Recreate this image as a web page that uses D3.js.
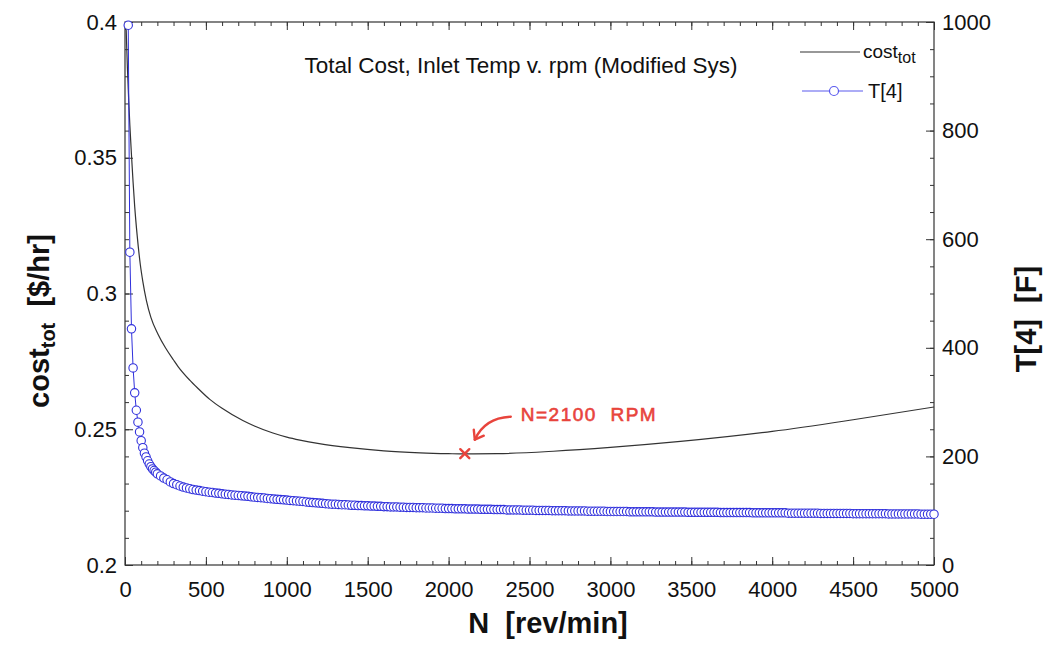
<!DOCTYPE html>
<html>
<head>
<meta charset="utf-8">
<script src="https://cdn.jsdelivr.net/npm/d3@7"></script>
<style>
  body { margin: 0; background: #fff; }
  text { font-family: "Liberation Sans", Arial, sans-serif; white-space: pre; }
</style>
</head>
<body>
<div id="chart"></div>
<script>
// total cost vs rpm (black line)
const costN = [5, 10, 15, 23, 30, 40, 50, 60, 75, 95, 110, 132, 160, 204, 250, 300, 328, 400, 450, 524, 600, 728, 800, 914, 1000, 1081, 1200, 1390, 1600, 1824, 2000, 2100, 2300, 2647, 3000, 3433, 4000, 4500, 5000];
const costVals = [0.4015, 0.392, 0.383, 0.371, 0.362, 0.351, 0.341, 0.332, 0.3215, 0.3105, 0.3045, 0.2975, 0.2912, 0.2850, 0.2800, 0.2755, 0.2731, 0.2681, 0.2651, 0.2610, 0.2577, 0.2532, 0.2512, 0.2486, 0.2471, 0.2460, 0.2447, 0.2432, 0.2420, 0.2413, 0.2410, 0.2409, 0.2410, 0.2419, 0.2433, 0.2455, 0.2492, 0.2535, 0.2582];

// T[4] inlet temp vs rpm (blue markers)
const t4N = [20, 30, 40, 50, 60, 70, 80, 90, 100, 110, 120, 130, 140, 150, 160, 170, 180, 190, 200,
  220, 240, 260, 280, 300, 320, 340, 360, 380, 400,
  420, 440, 460, 480, 500, 520, 540, 560, 580, 600,
  620, 640, 660, 680, 700, 720, 740, 760, 780, 800,
  820, 840, 860, 880, 900, 920, 940, 960, 980, 1000,
  1020, 1040, 1060, 1080, 1100, 1120, 1140, 1160, 1180, 1200,
  1220, 1240, 1260, 1280, 1300, 1320, 1340, 1360, 1380, 1400,
  1420, 1440, 1460, 1480, 1500, 1520, 1540, 1560, 1580, 1600,
  1620, 1640, 1660, 1680, 1700, 1720, 1740, 1760, 1780, 1800,
  1820, 1840, 1860, 1880, 1900, 1920, 1940, 1960, 1980, 2000,
  2020, 2040, 2060, 2080, 2100, 2120, 2140, 2160, 2180, 2200,
  2220, 2240, 2260, 2280, 2300, 2320, 2340, 2360, 2380, 2400,
  2420, 2440, 2460, 2480, 2500, 2520, 2540, 2560, 2580, 2600,
  2620, 2640, 2660, 2680, 2700, 2720, 2740, 2760, 2780, 2800,
  2820, 2840, 2860, 2880, 2900, 2920, 2940, 2960, 2980, 3000,
  3020, 3040, 3060, 3080, 3100, 3120, 3140, 3160, 3180, 3200,
  3220, 3240, 3260, 3280, 3300, 3320, 3340, 3360, 3380, 3400,
  3420, 3440, 3460, 3480, 3500, 3520, 3540, 3560, 3580, 3600,
  3620, 3640, 3660, 3680, 3700, 3720, 3740, 3760, 3780, 3800,
  3820, 3840, 3860, 3880, 3900, 3920, 3940, 3960, 3980, 4000,
  4020, 4040, 4060, 4080, 4100, 4120, 4140, 4160, 4180, 4200,
  4220, 4240, 4260, 4280, 4300, 4320, 4340, 4360, 4380, 4400,
  4420, 4440, 4460, 4480, 4500, 4520, 4540, 4560, 4580, 4600,
  4620, 4640, 4660, 4680, 4700, 4720, 4740, 4760, 4780, 4800,
  4820, 4840, 4860, 4880, 4900, 4920, 4940, 4960, 4980, 5000];
const t4Vals = [994, 576, 435, 363, 317, 285, 263, 245, 229, 216, 206, 199, 192, 186, 181, 177, 174, 171, 168,
  164, 160, 157, 153, 150, 148, 145.5, 143.5, 142, 140.5,
  139, 138, 137, 136, 135, 134, 133.5, 132.5, 132, 131,
  130.5, 130, 129, 128.5, 128, 127.5, 127, 126.5, 125.5, 125,
  124.5, 124, 123.5, 122.5, 122, 121.5, 121, 120.5, 120, 119.5,
  119, 118.5, 118, 117.5, 117, 116, 115.5, 115, 114.5, 114,
  113.5, 113, 112.5, 112, 112, 111.5, 111, 111, 110.5, 110,
  110, 109.5, 109.5, 109, 109, 108.5, 108.5, 108, 108, 107.5,
  107.5, 107, 107, 107, 106.5, 106.5, 106, 106, 106, 105.5,
  105.5, 105.5, 105, 105, 105, 104.5, 104.5, 104.5, 104, 104,
  104, 103.5, 103.5, 103.5, 103.5, 103, 103, 103, 103, 102.5,
  102.5, 102.5, 102.5, 102, 102, 102, 102, 101.5, 101.5, 101.5,
  101.5, 101.5, 101, 101, 101, 101, 100.5, 100.5, 100.5, 100.5,
  100.5, 100, 100, 100, 100, 100, 99.5, 99.5, 99.5, 99.5,
  99.5, 99.5, 99, 99, 99, 99, 99, 99, 98.5, 98.5,
  98.5, 98.5, 98.5, 98.5, 98.5, 98, 98, 98, 98, 98,
  98, 98, 98, 97.5, 97.5, 97.5, 97.5, 97.5, 97.5, 97.5,
  97.5, 97.5, 97.5, 97, 97, 97, 97, 97, 97, 97,
  97, 97, 97, 96.5, 96.5, 96.5, 96.5, 96.5, 96.5, 96.5,
  96.5, 96.5, 96.5, 96, 96, 96, 96, 96, 96, 96,
  96, 96, 96, 96, 95.5, 95.5, 95.5, 95.5, 95.5, 95.5,
  95.5, 95.5, 95.5, 95.5, 95, 95, 95, 95, 95, 95,
  95, 95, 95, 95, 94.5, 94.5, 94.5, 94.5, 94.5, 94.5,
  94.5, 94.5, 94.5, 94.5, 94.5, 94, 94, 94, 94, 94,
  94, 94, 94, 94, 94, 93.5, 93.5, 93.5, 93.5, 93.5];

const xTicks = [0, 500, 1000, 1500, 2000, 2500, 3000, 3500, 4000, 4500, 5000];
const costTicks = [0.2, 0.25, 0.3, 0.35, 0.4];
const tTicks = [0, 200, 400, 600, 800, 1000];
const markN = 2100, markCost = 0.2410;

const width = 1051, height = 652;
const margin = {top: 22, right: 117, bottom: 87, left: 125};
const innerW = width - margin.left - margin.right;
const innerH = height - margin.top - margin.bottom;

const svg = d3.select("#chart").append("svg")
  .attr("width", width).attr("height", height);

const x = d3.scaleLinear().domain([0, 5000]).range([margin.left, margin.left + innerW]);
const yCost = d3.scaleLinear().domain([0.2, 0.4]).range([margin.top + innerH, margin.top]);
const yT = d3.scaleLinear().domain([0, 1000]).range([margin.top + innerH, margin.top]);

const axisColor = "#333";
const major = 8, minor = 4;

function styleAxis(g) {
  g.select(".domain").remove();
  g.selectAll("line").attr("stroke", axisColor);
  g.selectAll("text").attr("font-size", 22).attr("fill", "#111");
}

// minor ticks
svg.append("g").attr("transform", `translate(0,${margin.top + innerH})`)
  .call(d3.axisBottom(x).tickValues(d3.range(0, 5001, 100)).tickSize(-minor).tickFormat("")).call(styleAxis);
svg.append("g").attr("transform", `translate(0,${margin.top})`)
  .call(d3.axisTop(x).tickValues(d3.range(0, 5001, 100)).tickSize(-minor).tickFormat("")).call(styleAxis);
svg.append("g").attr("transform", `translate(${margin.left},0)`)
  .call(d3.axisLeft(yCost).tickValues(d3.range(20, 41).map(d => d / 100)).tickSize(-minor).tickFormat("")).call(styleAxis);
svg.append("g").attr("transform", `translate(${margin.left + innerW},0)`)
  .call(d3.axisRight(yT).tickValues(d3.range(0, 1001, 50)).tickSize(-minor).tickFormat("")).call(styleAxis);

// major ticks + labels
svg.append("g").attr("transform", `translate(0,${margin.top + innerH})`)
  .call(d3.axisBottom(x).tickValues(xTicks).tickSize(-major).tickPadding(16).tickFormat(d3.format("d"))).call(styleAxis);
svg.append("g").attr("transform", `translate(0,${margin.top})`)
  .call(d3.axisTop(x).tickValues(xTicks).tickSize(-major).tickFormat("")).call(styleAxis);
svg.append("g").attr("transform", `translate(${margin.left},0)`)
  .call(d3.axisLeft(yCost).tickValues(costTicks).tickSize(-major).tickPadding(8).tickFormat(d => String(+d.toFixed(2)))).call(styleAxis);
svg.append("g").attr("transform", `translate(${margin.left + innerW},0)`)
  .call(d3.axisRight(yT).tickValues(tTicks).tickSize(-major).tickPadding(8).tickFormat(d3.format("d"))).call(styleAxis);

// frame
svg.append("rect")
  .attr("x", margin.left).attr("y", margin.top)
  .attr("width", innerW).attr("height", innerH)
  .attr("fill", "none").attr("stroke", axisColor).attr("stroke-width", 1.2);

svg.append("clipPath").attr("id", "plotclip").append("rect")
  .attr("x", margin.left).attr("y", margin.top).attr("width", innerW).attr("height", innerH);

const plot = svg.append("g").attr("clip-path", "url(#plotclip)");

// cost line
const costLine = d3.line()
  .x((d, i) => x(costN[i]))
  .y(d => yCost(d))
  .curve(d3.curveMonotoneX);
plot.append("path")
  .attr("d", costLine(costVals))
  .attr("fill", "none").attr("stroke", "#333").attr("stroke-width", 1.2);

// T[4] line + markers
const blue = "#3030dc";
const tLine = d3.line().x((d, i) => x(t4N[i])).y(d => yT(d));
plot.append("path")
  .attr("d", tLine(t4Vals))
  .attr("fill", "none").attr("stroke", blue).attr("stroke-width", 1);
svg.append("g").selectAll("circle")
  .data(t4Vals)
  .join("circle")
  .attr("cx", (d, i) => x(t4N[i]))
  .attr("cy", d => yT(d))
  .attr("r", 4.2)
  .attr("fill", "#fff").attr("stroke", blue).attr("stroke-width", 1.1);

// title
svg.append("text")
  .attr("x", 521).attr("y", 73)
  .attr("text-anchor", "middle").attr("font-size", 22.5).attr("fill", "#111")
  .text("Total Cost, Inlet Temp v. rpm (Modified Sys)");

// legend
const lg = svg.append("g");
lg.append("line").attr("x1", 800).attr("x2", 860).attr("y1", 52).attr("y2", 52)
  .attr("stroke", "#333").attr("stroke-width", 1.2);
const lt1 = lg.append("text").attr("x", 863).attr("y", 58).attr("font-size", 19).attr("fill", "#111");
lt1.append("tspan").text("cost");
lt1.append("tspan").attr("font-size", 16).attr("dy", 5).text("tot");
lg.append("line").attr("x1", 802).attr("x2", 863).attr("y1", 91).attr("y2", 91)
  .attr("stroke", "#5a5aee").attr("stroke-width", 1.2);
lg.append("circle").attr("cx", 834).attr("cy", 91).attr("r", 4.5)
  .attr("fill", "#fff").attr("stroke", "#5a5aee").attr("stroke-width", 1.2);
lg.append("text").attr("x", 868).attr("y", 98).attr("font-size", 20).attr("fill", "#111").text("T[4]");

// axis titles
svg.append("text")
  .attr("x", 548).attr("y", 633)
  .attr("text-anchor", "middle").attr("font-size", 29).attr("font-weight", "bold").attr("fill", "#111")
  .text("N  [rev/min]");

const yl = svg.append("text")
  .attr("transform", "translate(49,321) rotate(-90)")
  .attr("text-anchor", "middle").attr("font-size", 29).attr("font-weight", "bold").attr("fill", "#111");
yl.append("tspan").text("cost");
yl.append("tspan").attr("font-size", 20).attr("dy", 6).text("tot");
yl.append("tspan").attr("dy", -6).text("  [$/hr]");

svg.append("text")
  .attr("transform", "translate(1036,319) rotate(-90)")
  .attr("text-anchor", "middle").attr("font-size", 29).attr("font-weight", "bold").attr("fill", "#111")
  .text("T[4]  [F]");

// hand annotation
const red = "#e8443c";
const mx = x(markN), my = yCost(markCost);
const ann = svg.append("g").attr("stroke", red).attr("stroke-width", 2.4)
  .attr("stroke-linecap", "round").attr("stroke-linejoin", "round").attr("fill", "none");
ann.append("path").attr("d", `M${mx - 4.5},${my - 4.5}L${mx + 4.5},${my + 4.5}M${mx - 4.5},${my + 4.5}L${mx + 4.5},${my - 4.5}`);
ann.append("path").attr("d", `M${mx + 46},${my - 37}Q${mx + 20},${my - 36} ${mx + 10},${my - 14}`);
ann.append("path").attr("d", `M${mx + 9},${my - 24}L${mx + 10},${my - 14}L${mx + 19},${my - 18}`);
svg.append("text")
  .attr("x", mx + 56).attr("y", my - 33)
  .attr("font-size", 19).attr("fill", red).attr("stroke", red).attr("stroke-width", 0.6)
  .attr("letter-spacing", 1.5)
  .attr("font-family", "DejaVu Sans")
  .text("N=2100  RPM");
</script>
</body>
</html>
